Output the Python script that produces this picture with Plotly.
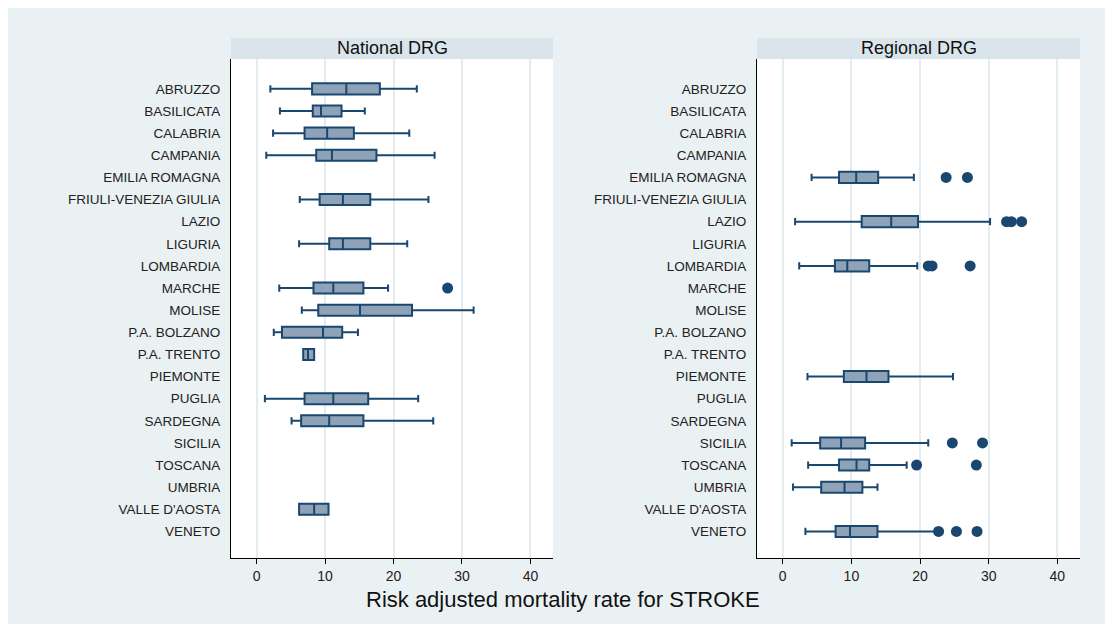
import plotly.graph_objects as go

regions = ["ABRUZZO", "BASILICATA", "CALABRIA", "CAMPANIA", "EMILIA ROMAGNA",
           "FRIULI-VENEZIA GIULIA", "LAZIO", "LIGURIA", "LOMBARDIA", "MARCHE",
           "MOLISE", "P.A. BOLZANO", "P.A. TRENTO", "PIEMONTE", "PUGLIA",
           "SARDEGNA", "SICILIA", "TOSCANA", "UMBRIA", "VALLE D'AOSTA", "VENETO"]

# National DRG panel
nat_regions = ["ABRUZZO", "BASILICATA", "CALABRIA", "CAMPANIA", "FRIULI-VENEZIA GIULIA",
               "LIGURIA", "MARCHE", "MOLISE", "P.A. BOLZANO", "P.A. TRENTO",
               "PUGLIA", "SARDEGNA", "VALLE D'AOSTA"]
nat_low = [2.0, 3.4, 2.4, 1.4, 6.3, 6.2, 3.3, 6.6, 2.5, 6.8, 1.2, 5.1, 6.2]
nat_q1 = [8.1, 8.2, 7.0, 8.7, 9.2, 10.6, 8.3, 9.0, 3.7, 6.8, 7.0, 6.5, 6.2]
nat_med = [13.1, 9.4, 10.3, 11.0, 12.6, 12.6, 11.2, 15.1, 9.7, 7.5, 11.2, 10.6, 8.4]
nat_q3 = [18.0, 12.4, 14.2, 17.5, 16.6, 16.6, 15.6, 22.7, 12.5, 8.4, 16.3, 15.6, 10.5]
nat_high = [23.4, 15.8, 22.3, 26.0, 25.1, 22.0, 19.2, 31.7, 14.8, 8.4, 23.6, 25.8, 10.5]
nat_out_region = ["MARCHE"]
nat_out_value = [27.9]

# Regional DRG panel
reg_regions = ["EMILIA ROMAGNA", "LAZIO", "LOMBARDIA", "PIEMONTE", "SICILIA",
               "TOSCANA", "UMBRIA", "VENETO"]
reg_low = [4.2, 1.8, 2.4, 3.6, 1.3, 3.7, 1.5, 3.3]
reg_q1 = [8.2, 11.5, 7.6, 8.9, 5.45, 8.2, 5.6, 7.7]
reg_med = [10.7, 15.8, 9.4, 12.2, 8.5, 10.75, 9.0, 9.8]
reg_q3 = [13.9, 19.7, 12.6, 15.4, 12.0, 12.6, 11.6, 13.8]
reg_high = [19.1, 30.2, 19.6, 24.8, 21.2, 18.05, 13.8, 22.2]
reg_out_region = ["EMILIA ROMAGNA", "EMILIA ROMAGNA", "LAZIO", "LAZIO", "LAZIO",
                  "LOMBARDIA", "LOMBARDIA", "LOMBARDIA", "SICILIA", "SICILIA",
                  "TOSCANA", "TOSCANA", "VENETO", "VENETO", "VENETO"]
reg_out_value = [23.8, 26.9, 32.6, 33.3, 34.8,
                 21.2, 21.75, 27.3, 24.7, 29.1,
                 19.5, 28.2, 22.7, 25.3, 28.3]

x_ticks = [0, 10, 20, 30, 40]
panel_titles = ["National DRG", "Regional DRG"]
x_title = "Risk adjusted mortality rate for STROKE"

NAVY = "#1a476f"
FILL = "#8fa3b8"
BG = "#eaf1f3"
STRIP = "#d9e5eb"
FONT = "Liberation Sans, Arial, sans-serif"

# page body has an 8px margin; figure coordinates are screen minus 8
OFF = 8
W, H = 1113, 624
ML = 231 - OFF
MR = W - (1080 - OFF)
MT = 59 - OFF
MB = H - (558 - OFF)
PW = W - ML - MR
PH = H - MT - MB


def px_x(px):
    """screen px -> paper x"""
    return (px - OFF - ML) / PW


def px_y(py):
    """screen px -> paper y"""
    return (H - MB - (py - OFF)) / PH


fig = go.Figure()

panels = [
    (nat_regions, nat_low, nat_q1, nat_med, nat_q3, nat_high, nat_out_region, nat_out_value, "x", "y"),
    (reg_regions, reg_low, reg_q1, reg_med, reg_q3, reg_high, reg_out_region, reg_out_value, "x2", "y2"),
]
for (cats, lo, q1, med, q3, hi, orr, orv, xa, ya) in panels:
    fig.add_trace(go.Box(
        y=cats, q1=q1, median=med, q3=q3, lowerfence=lo, upperfence=hi,
        orientation="h", xaxis=xa, yaxis=ya,
        fillcolor=FILL, line=dict(color=NAVY, width=2),
        width=0.5, whiskerwidth=0.65, boxpoints=False, showlegend=False,
        hoverinfo="skip",
    ))
    fig.add_trace(go.Scatter(
        x=orv, y=orr, mode="markers", xaxis=xa, yaxis=ya,
        marker=dict(color=NAVY, size=11, symbol="circle"),
        showlegend=False, hoverinfo="skip",
    ))

dom_left = [0, px_x(553)]
dom_right = [px_x(757), 1]

xcommon = dict(
    range=[-3.75, 43.3], tickvals=x_ticks, ticks="outside", ticklen=5, tickcolor="black",
    tickwidth=1, showline=True, linecolor="black", linewidth=1, mirror=False,
    showgrid=True, gridcolor="#e3ecef", gridwidth=2, zeroline=False,
    tickfont=dict(family=FONT, size=14, color="#222222"), fixedrange=True,
)
ycommon = dict(
    type="category", categoryorder="array", categoryarray=regions,
    range=[20 + 1.2, -1.35], showline=True, linecolor="black", linewidth=1,
    showgrid=False, zeroline=False, ticks="", ticklabelstandoff=7,
    tickfont=dict(family=FONT, size=13.5, color="#222222"), fixedrange=True,
)

fig.update_layout(
    width=W, height=H,
    margin=dict(l=ML, r=MR, t=MT, b=MB, pad=0),
    paper_bgcolor=BG, plot_bgcolor="white",
    xaxis=dict(domain=dom_left, anchor="y", **xcommon),
    xaxis2=dict(domain=dom_right, anchor="y2", **xcommon),
    yaxis=dict(domain=[0, 1], anchor="x", **ycommon),
    yaxis2=dict(domain=[0, 1], anchor="x2", **ycommon),
)

shapes = []
annotations = []
for dom, title in zip([dom_left, dom_right], panel_titles):
    shapes.append(dict(type="rect", xref="paper", yref="paper",
                       x0=dom[0], x1=dom[1], y0=1.0, y1=px_y(38),
                       fillcolor=STRIP, line=dict(width=0), layer="below"))
    annotations.append(dict(text=title, xref="paper", yref="paper",
                            x=(dom[0] + dom[1]) / 2, y=(1.0 + px_y(38)) / 2,
                            xanchor="center", yanchor="middle", showarrow=False,
                            font=dict(family=FONT, size=18, color="#111111")))

annotations.append(dict(text=x_title, xref="paper", yref="paper",
                        x=px_x(563), y=px_y(599), xanchor="center", yanchor="middle",
                        showarrow=False, font=dict(family=FONT, size=22, color="#111111")))

fig.update_layout(shapes=shapes, annotations=annotations)

fig.write_html("out.html")
